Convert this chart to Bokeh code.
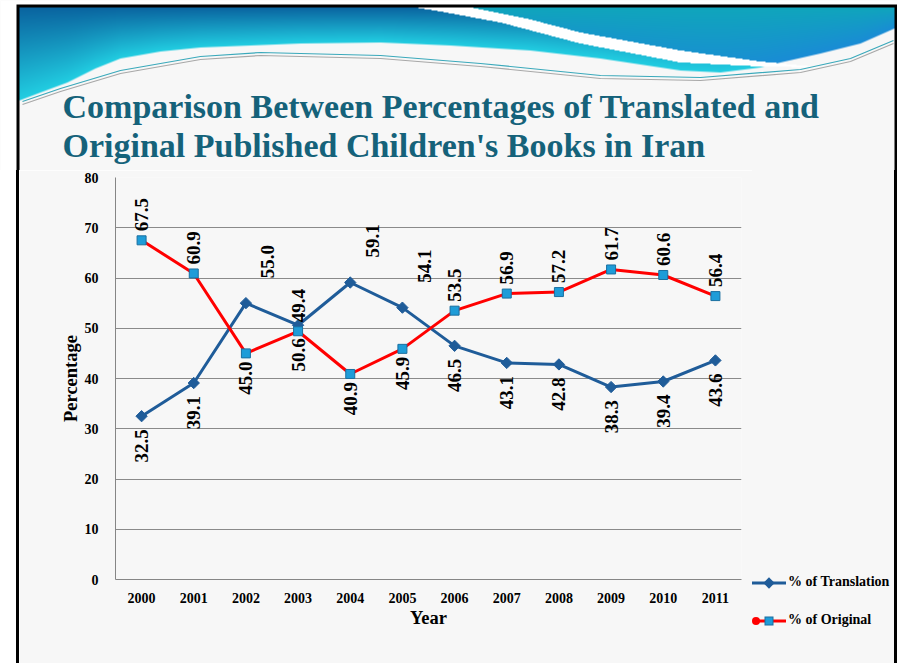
import numpy as np
from bokeh.plotting import figure
from bokeh.layouts import column, row
from bokeh.models import ColumnDataSource, FactorRange, Range1d, FixedTicker, Div
from bokeh.embed import file_html
from bokeh.resources import INLINE
from bokeh.core.properties import value

# ---------------- data ----------------
years = ["2000", "2001", "2002", "2003", "2004", "2005",
         "2006", "2007", "2008", "2009", "2010", "2011"]
translation = [32.5, 39.1, 55.0, 50.6, 59.1, 54.1, 46.5, 43.1, 42.8, 38.3, 39.4, 43.6]
original = [67.5, 60.9, 45.0, 49.4, 40.9, 45.9, 53.5, 56.9, 57.2, 61.7, 60.6, 56.4]
y_ticks = [0, 10, 20, 30, 40, 50, 60, 70, 80]
series_names = ["% of Translation", "% of Original"]
title_lines = ["Comparison Between Percentages of Translated and",
               "Original Published Children's Books in Iran"]

# ---------------- geometry / style ----------------
W, H = 897, 663
HEAD_H = 170
ROW_H = H - HEAD_H
FL, FR, FT, FB = 115, 741, 177, 579   # plot frame in page pixels
LEFT_STRIP = 19
LEG_X = 752                            # legend column starts here
RB_X = 894                             # right slide border
LEG_Y = [583, 621]                     # legend item centres (page px)
TITLE_Y = [106, 145]                   # title line positions (page px)
SERIF = "Liberation Serif"
BLUE = "#1F5C99"
RED = "#FF0000"
SQ = "#1E9CD8"
SQ_EDGE = "#1a6fa0"
BG = "#f7f7f7"
TITLE_C = "#15627A"

# ---------------- header (slide banner + title) ----------------
hd = figure(width=W, height=HEAD_H, title=None, x_range=Range1d(0, W), y_range=Range1d(0, HEAD_H),
            output_backend="svg", toolbar_location=None,
            x_axis_location=None, y_axis_location=None,
            min_border=0, min_border_left=0, min_border_right=0,
            min_border_top=0, min_border_bottom=0)
hd.outline_line_color = None
hd.grid.visible = False
hd.background_fill_color = BG
hd.border_fill_color = BG

edge_x = [19, 40, 67, 95, 120, 160, 200, 300, 380, 450, 530, 600, 680, 720, 760, 780, 820, 860, 894]
edge_y = [100, 92, 82, 68, 58, 51, 47, 43, 42, 45, 50, 58, 70, 72, 67, 62, 53, 43, 28]
up_x = [470, 530, 580, 630, 680, 760, 822]
up_y = [7, 19, 32, 41, 50, 61, 67]
lo_x = [415, 440, 500, 580, 680, 760, 822]
lo_y = [7, 11, 22, 43, 62, 66, 67]

yy, xx = np.mgrid[0:HEAD_H, 0:W].astype(float)
xc, yc = xx + 0.5, yy + 0.5
img = np.empty((HEAD_H, W, 3))
img[:] = [247, 247, 247]
curve = np.interp(xc, edge_x, edge_y)
t = np.clip((yc - 7) / np.maximum(curve - 7, 1), 0, 1)[..., None]
LT, LB = np.array([10, 100, 160.]), np.array([34, 206, 226.])
RT, RB = np.array([16, 166, 188.]), np.array([26, 140, 214.])
left_col = LT + (LB - LT) * t
right_col = RT + (RB - RT) * t
x_right = np.interp(yc, up_y, up_x)
x_left = np.interp(yc, lo_y, lo_x)
blue = np.where((xc > x_right)[..., None], right_col, left_col)
cov = np.clip(curve - yy, 0, 1) * (yy >= 7)
img = img * (1 - cov[..., None]) + blue * cov[..., None]
sw = (xc >= x_left) & (xc <= x_right) & (yc <= 67) & (yc >= 7)
img[sw] = [255, 255, 255]
img[:, :16] = 255
img[:4, :] = 255
img[4:, 16:19] = 0
img[4:, RB_X:] = 0
img[4:7, 16:] = 0
rgba = np.zeros((HEAD_H, W), dtype=np.uint32)
view = rgba.view(dtype=np.uint8).reshape((HEAD_H, W, 4))
view[..., :3] = img.astype(np.uint8)
view[..., 3] = 255
hd.image_rgba(image=[np.ascontiguousarray(rgba[::-1])], x=0, y=0, dw=W, dh=HEAD_H)

ln_x = np.array([22, 60, 120, 200, 260, 380, 480, 600, 700, 800, 850, 893])
ln_y = np.array([101, 88, 70, 56, 52, 55, 63, 75, 77, 69, 58, 40])
hd.line(ln_x, HEAD_H - ln_y, line_color="#3aa9bb", line_width=1.2)
hd.line(ln_x, HEAD_H - ln_y - 3, line_color="#a8a8a8", line_width=1.2)

for ty, line in zip(TITLE_Y, title_lines):
    hd.text(x=[62], y=[HEAD_H - ty], text=[line],
            text_font=value(SERIF), text_font_style="bold", text_font_size="34px",
            text_color=TITLE_C, text_baseline="alphabetic", text_align="left")

# ---------------- slide border strips (plain boxes) ----------------
left_strip = Div(text="", width=LEFT_STRIP, height=ROW_H, margin=0,
                 styles={"background": "linear-gradient(to right, #ffffff 16px, #000000 16px)"})
right_strip = Div(text="", width=W - RB_X, height=ROW_H, margin=0,
                  styles={"background-color": "#000000"})

# ---------------- chart ----------------
p = figure(width=LEG_X - LEFT_STRIP, height=ROW_H, x_range=FactorRange(*years),
           y_range=Range1d(0, 80), title=None, output_backend="svg", toolbar_location=None,
           min_border_left=FL - LEFT_STRIP, min_border_right=LEG_X - FR,
           min_border_top=FT - HEAD_H, min_border_bottom=H - FB)
p.outline_line_color = None
p.background_fill_color = BG
p.border_fill_color = BG

for ax in (p.xaxis[0], p.yaxis[0]):
    ax.axis_line_color = "#868686"
    ax.major_tick_line_color = None
    ax.minor_tick_line_color = None
    ax.major_label_text_font = SERIF
    ax.major_label_text_font_style = "bold"
    ax.major_label_text_font_size = "14px"
    ax.major_label_text_color = "black"
    ax.axis_label_text_font = SERIF
    ax.axis_label_text_font_style = "bold"
    ax.axis_label_text_font_size = "18.5px"
    ax.axis_label_text_color = "black"
p.xaxis.major_label_standoff = 7
p.yaxis.major_label_standoff = 11
p.xaxis.axis_label = "Year"
p.xaxis.axis_label_standoff = 2
p.yaxis.axis_label = "Percentage"
p.yaxis.axis_label_standoff = 1
p.yaxis.ticker = FixedTicker(ticks=y_ticks)
p.xgrid.grid_line_color = None
p.ygrid.grid_line_color = "#8a8a8a"
p.ygrid.grid_line_width = 1

p.line(years, translation, line_color=BLUE, line_width=3)
p.scatter(years, translation, marker="square", angle=np.pi / 4, size=8,
          fill_color=BLUE, line_color=BLUE)
p.line(years, original, line_color=RED, line_width=3)
p.scatter(years, original, marker="square", size=9,
          fill_color=SQ, line_color=SQ_EDGE, line_width=1)

t_arr = np.array(translation)
o_arr = np.array(original)
t_above = (t_arr - o_arr) > 2
o_above = ~t_above

def add_labels(vals, above_mask, xo_up, yo_up, yo_dn):
    for up in (True, False):
        sel = [i for i, a in enumerate(above_mask) if bool(a) == up]
        src = ColumnDataSource(dict(x=[years[i] for i in sel], y=[vals[i] for i in sel],
                                    t=["%.1f" % vals[i] for i in sel]))
        p.text("x", "y", text="t", source=src, angle=np.pi / 2,
               text_align="left" if up else "right", text_baseline="middle",
               x_offset=xo_up if up else 0, y_offset=yo_up if up else yo_dn,
               text_font=value(SERIF), text_font_style="bold", text_font_size="19px",
               text_color="black")

add_labels(translation, t_above, 22, -25, 13)
add_labels(original, o_above, 0, -9, 8)

# ---------------- legend (beside and below the plot frame) ----------------
def legend_row(cy, glyph_svg, label):
    top = cy - HEAD_H - 8
    return (f'<svg width="36" height="16" style="position:absolute;left:0;top:{top}px">'
            f'{glyph_svg}</svg>'
            f'<span style="position:absolute;left:36px;top:{top - 1}px;line-height:16px;'
            f'white-space:nowrap">{label}</span>')

g1 = (f'<line x1="0" y1="8" x2="34" y2="8" stroke="{BLUE}" stroke-width="3"/>'
      f'<rect x="13" y="4" width="8" height="8" fill="{BLUE}" transform="rotate(45 17 8)"/>')
g2 = (f'<line x1="3" y1="8" x2="34" y2="8" stroke="{RED}" stroke-width="3"/>'
      f'<circle cx="4" cy="8" r="4" fill="{RED}"/>'
      f'<rect x="13" y="4" width="8" height="8" fill="{SQ}" stroke="{SQ_EDGE}" stroke-width="1"/>')
leg_html = (f'<div style="position:relative;width:{RB_X - LEG_X}px;height:{ROW_H}px;'
            f'background:{BG};font-family:\'{SERIF}\';font-weight:bold;font-size:14px;'
            f'color:#000">'
            + legend_row(LEG_Y[0], g1, series_names[0])
            + legend_row(LEG_Y[1], g2, series_names[1])
            + '</div>')
legend_box = Div(text=leg_html, width=RB_X - LEG_X, height=ROW_H, margin=0,
                 styles={"background-color": BG, "overflow": "hidden"})

layout = column(hd, row(left_strip, p, legend_box, right_strip, spacing=0), spacing=0)
open("out.html", "w").write(file_html(layout, INLINE))
